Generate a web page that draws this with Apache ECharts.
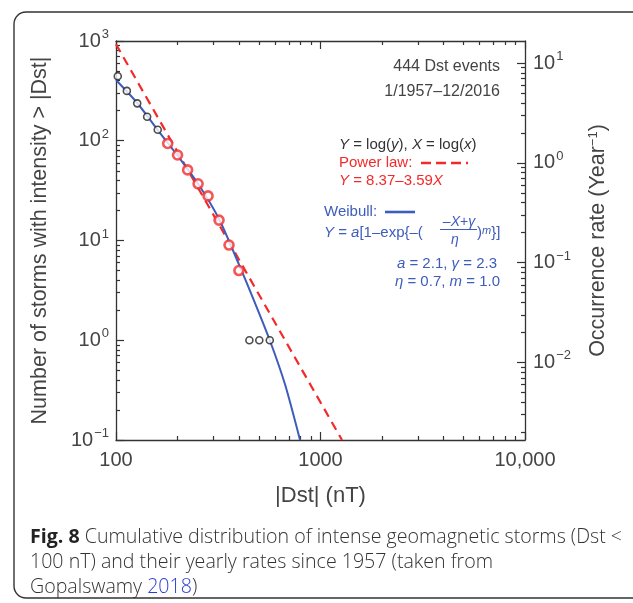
<!DOCTYPE html>
<html>
<head>
<meta charset="utf-8">
<script src="https://cdn.jsdelivr.net/npm/echarts@6/dist/echarts.min.js"></script>
<style>
  html, body { margin: 0; padding: 0; background: #fff; }
  #chart { width: 633px; height: 603px; }
</style>
</head>
<body>
<div id="chart"></div>
<script>
// Cumulative counts of intense storms (|Dst| thresholds, nT)
const dstBlack = [102, 113, 127, 142, 160, 449, 502, 565];
const countBlack = [444, 316, 237, 174, 129, 1, 1, 1];
const dstRed = [179, 200, 224, 252, 282, 319, 357, 399];
const countRed = [94, 72, 51, 37, 28, 16, 9, 5];

// Power-law fit (straight in log-log): end points
const powerDst = [100, 1274];
const powerCount = [929, 0.1];

// Weibull fit curve samples
const weibullDst = [100, 127, 160, 201, 252, 319, 400, 473, 565, 671, 794];
const weibullCount = [406, 239, 128, 70, 37, 16.4, 5.7, 2.5, 1.0, 0.36, 0.1];

// Axis ticks
const xMajor = [100, 1000, 10000];
const xMinor = [200, 300, 400, 500, 600, 700, 800, 900, 2000, 3000, 4000, 5000, 6000, 7000, 8000, 9000];
const yMajor = [0.1, 1, 10, 100, 1000];
const yMinor = [0.2, 0.3, 0.4, 0.5, 0.6, 0.7, 0.8, 0.9, 2, 3, 4, 5, 6, 7, 8, 9, 20, 30, 40, 50, 60, 70, 80, 90, 200, 300, 400, 500, 600, 700, 800, 900];
const years = 60; // 1957–2016
const rateMajor = [0.01, 0.1, 1, 10];
const rateMinor = [0.002, 0.003, 0.004, 0.005, 0.006, 0.007, 0.008, 0.009, 0.02, 0.03, 0.04, 0.05, 0.06, 0.07, 0.08, 0.09, 0.2, 0.3, 0.4, 0.5, 0.6, 0.7, 0.8, 0.9, 2, 3, 4, 5, 6, 7, 8, 9];

const FONT = '"Liberation Sans", Arial, sans-serif';
const CAPTION_FONT = '"Open Sans", sans-serif';
const GREY = '#444';
const RED = '#f22a2a';
const BLUE = '#3d5cbc';
const AXIS = '#333';

function zip(a, b) { return a.map((v, i) => [v, b[i]]); }

function pow10(v) {
  const e = Math.round(Math.log10(v));
  return '{b|10}{s|' + (e < 0 ? '\u2212' + (-e) : e) + '}';
}
const powRich = {
  b: { fontSize: 20, color: GREY, fontFamily: FONT, lineHeight: 26 },
  s: { fontSize: 13, color: GREY, fontFamily: FONT, verticalAlign: 'top', lineHeight: 14, padding: [0, 0, 0, 1] }
};

function majorAxis(extra) {
  return Object.assign({
    type: 'log', logBase: 10,
    axisLine: { show: true, lineStyle: { color: AXIS, width: 1.3 } },
    splitLine: { show: false },
    minorTick: { show: false }
  }, extra);
}
function minorAxis(extra) {
  return Object.assign({
    type: 'log', logBase: 10,
    axisLine: { show: false },
    axisLabel: { show: false },
    splitLine: { show: false }
  }, extra);
}
function ticks(values, len) {
  return { show: true, inside: true, length: len, customValues: values, lineStyle: { color: AXIS, width: 1.2 } };
}

const chart = echarts.init(document.getElementById('chart'), null, { renderer: 'canvas' });

const option = {
  animation: false,
  backgroundColor: '#fff',
  grid: { left: 116, top: 41, width: 409, height: 399 },
  xAxis: [
    majorAxis({
      position: 'bottom', min: 100, max: 10000,
      axisTick: ticks(xMajor, 8),
      axisLabel: {
        customValues: xMajor, margin: 10, fontSize: 20, color: GREY, fontFamily: FONT,
        formatter: v => (v >= 10000 ? '10,000' : String(v))
      },
      name: '|Dst| (nT)', nameLocation: 'middle', nameGap: 45,
      nameTextStyle: { fontSize: 22, color: GREY, fontFamily: FONT }
    }),
    minorAxis({ position: 'bottom', min: 100, max: 10000, axisTick: ticks(xMinor, 4) }),
    majorAxis({ position: 'top', min: 100, max: 10000, axisTick: ticks(xMajor, 8), axisLabel: { show: false } }),
    minorAxis({ position: 'top', min: 100, max: 10000, axisTick: ticks(xMinor, 4) })
  ],
  yAxis: [
    majorAxis({
      position: 'left', min: 0.1, max: 1000,
      axisTick: ticks(yMajor, 8),
      axisLabel: { customValues: yMajor, margin: 7, formatter: pow10, rich: powRich },
      name: 'Number of storms with intensity > |Dst|', nameLocation: 'middle', nameGap: 65, nameRotate: 90,
      nameTextStyle: { fontSize: 21.5, color: GREY, fontFamily: FONT }
    }),
    minorAxis({ position: 'left', min: 0.1, max: 1000, axisTick: ticks(yMinor, 4) }),
    majorAxis({
      position: 'right', min: 0.1 / years, max: 1000 / years,
      axisTick: ticks(rateMajor, 8),
      axisLabel: { customValues: rateMajor, margin: 8, formatter: pow10, rich: powRich },
      name: 'Occurrence rate (Year{s|\u22121})', nameLocation: 'middle', nameGap: 62, nameRotate: 90,
      nameTextStyle: {
        fontSize: 21.5, color: GREY, fontFamily: FONT,
        rich: { s: { fontSize: 13, color: GREY, fontFamily: FONT, verticalAlign: 'top', lineHeight: 12 } }
      }
    }),
    minorAxis({ position: 'right', min: 0.1 / years, max: 1000 / years, axisTick: ticks(rateMinor, 4) })
  ],
  series: [
    {
      type: 'line', name: 'Power law', xAxisIndex: 0, yAxisIndex: 0,
      data: zip(powerDst, powerCount), showSymbol: false, symbol: 'none',
      lineStyle: { color: RED, width: 2.2, type: [9, 6] }, z: 2
    },
    {
      type: 'line', name: 'Weibull', xAxisIndex: 0, yAxisIndex: 0,
      data: zip(weibullDst, weibullCount), showSymbol: false, symbol: 'none',
      smooth: 0.25,
      lineStyle: { color: BLUE, width: 2 }, z: 3
    },
    {
      type: 'scatter', name: 'Events', xAxisIndex: 0, yAxisIndex: 0,
      data: zip(dstBlack, countBlack), symbol: 'circle', symbolSize: 7,
      itemStyle: { color: '#fff', borderColor: '#222', borderWidth: 1.6 }, z: 4
    },
    {
      type: 'scatter', name: 'Fitted events', xAxisIndex: 0, yAxisIndex: 0,
      data: zip(dstRed, countRed), symbol: 'circle', symbolSize: 9,
      itemStyle: { color: '#fff', borderColor: RED, borderWidth: 2.6 }, z: 4
    }
  ],
  graphic: [
    // panel frame
    { type: 'rect', shape: { x: 14, y: 12, width: 640, height: 586, r: 12 }, style: { fill: 'none', stroke: '#333', lineWidth: 1.4 }, silent: true },
    // annotations
    { type: 'text', style: { text: '444 Dst events', x: 500, y: 67, align: 'right', verticalAlign: 'middle', font: '16px ' + FONT, fill: GREY } },
    { type: 'text', style: { text: '1/1957\u201312/2016', x: 500, y: 92, align: 'right', verticalAlign: 'middle', font: '16px ' + FONT, fill: GREY } },
    { type: 'text', style: {
        text: '{i|Y} = log({i|y}), {i|X} = log({i|x})', x: 339, y: 145, verticalAlign: 'middle',
        fontSize: 15, fontFamily: FONT, fill: '#333',
        rich: { i: { fontStyle: 'italic', fontSize: 15, fontFamily: FONT, fill: '#333' } } } },
    { type: 'text', style: { text: 'Power law:', x: 339, y: 163, verticalAlign: 'middle', fontSize: 15, fontFamily: FONT, fill: RED } },
    { type: 'line', shape: { x1: 421, y1: 163, x2: 468, y2: 163 }, style: { stroke: RED, lineWidth: 2.6, lineDash: [10, 5] } },
    { type: 'text', style: {
        text: '{i|Y} = 8.37\u20133.59{i|X}', x: 339, y: 181, verticalAlign: 'middle',
        fontSize: 15, fontFamily: FONT, fill: RED,
        rich: { i: { fontStyle: 'italic', fontSize: 15, fontFamily: FONT, fill: RED } } } },
    { type: 'text', style: { text: 'Weibull:', x: 324, y: 212, verticalAlign: 'middle', fontSize: 15, fontFamily: FONT, fill: BLUE } },
    { type: 'line', shape: { x1: 385, y1: 212, x2: 415, y2: 212 }, style: { stroke: BLUE, lineWidth: 2.6 } },
    { type: 'text', style: {
        text: '{i|Y} = {i|a}[1\u2013exp{\u2013(', x: 324, y: 233, verticalAlign: 'middle',
        fontSize: 15, fontFamily: FONT, fill: BLUE,
        rich: { i: { fontStyle: 'italic', fontSize: 15, fontFamily: FONT, fill: BLUE } } } },
    { type: 'text', style: {
        text: '\u2013{i|X}+{i|\u03b3}', x: 459, y: 222, align: 'center', verticalAlign: 'middle',
        fontSize: 14, fontFamily: FONT, fill: BLUE,
        rich: { i: { fontStyle: 'italic', fontSize: 14, fontFamily: FONT, fill: BLUE } } } },
    { type: 'line', shape: { x1: 440, y1: 229.5, x2: 477, y2: 229.5 }, style: { stroke: BLUE, lineWidth: 1 } },
    { type: 'text', style: { text: '\u03b7', x: 455, y: 240, align: 'center', verticalAlign: 'middle', fontSize: 14, fontStyle: 'italic', fontFamily: FONT, fill: BLUE } },
    { type: 'text', style: {
        text: '){s|m}}]', x: 477, y: 233, verticalAlign: 'middle',
        fontSize: 15, fontFamily: FONT, fill: BLUE,
        rich: { s: { fontStyle: 'italic', fontSize: 11, fontFamily: FONT, fill: BLUE, verticalAlign: 'top', lineHeight: 10 } } } },
    { type: 'text', style: {
        text: '{i|a} = 2.1, {i|\u03b3} = 2.3', x: 497, y: 264, align: 'right', verticalAlign: 'middle',
        fontSize: 15, fontFamily: FONT, fill: BLUE,
        rich: { i: { fontStyle: 'italic', fontSize: 15, fontFamily: FONT, fill: BLUE } } } },
    { type: 'text', style: {
        text: '{i|\u03b7} = 0.7, {i|m} = 1.0', x: 500, y: 282, align: 'right', verticalAlign: 'middle',
        fontSize: 15, fontFamily: FONT, fill: BLUE,
        rich: { i: { fontStyle: 'italic', fontSize: 15, fontFamily: FONT, fill: BLUE } } } },
    // caption
    { type: 'text', style: {
        text: '{b|Fig. 8} Cumulative distribution of intense geomagnetic storms (Dst <\n100 nT) and their yearly rates since 1957 (taken from\nGopalswamy {l|2018})',
        x: 30, y: 525, lineHeight: 25,
        fontSize: 19.6, fontWeight: 300, fontFamily: CAPTION_FONT, fill: '#333',
        rich: {
          b: { fontWeight: 'bold', fontSize: 19.6, fontFamily: CAPTION_FONT, fill: '#222', lineHeight: 25 },
          l: { fontSize: 19.6, fontWeight: 300, fontFamily: CAPTION_FONT, fill: '#2a3fd0', lineHeight: 25 }
        } } }
  ]
};

chart.setOption(option);
</script>
</body>
</html>
